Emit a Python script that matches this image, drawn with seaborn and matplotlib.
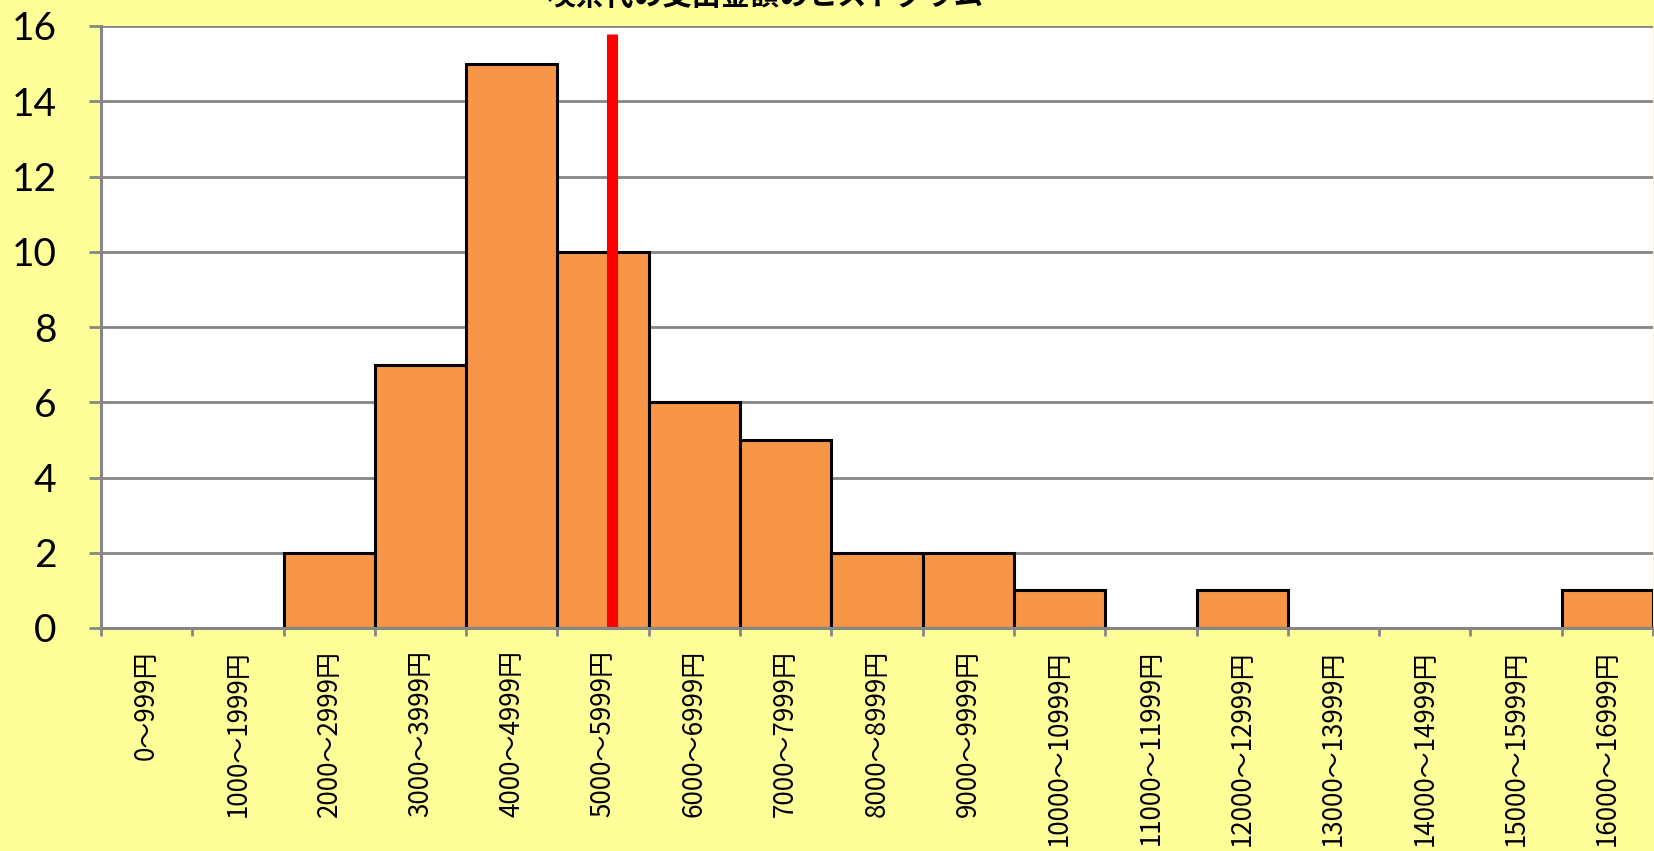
#%% pacotes
import matplotlib
matplotlib.use("Agg")
import matplotlib.pyplot as plt
import seaborn as sns
import numpy as np

sns.set_style("white")
plt.rcParams['font.family'] = ['Noto Sans CJK JP', 'DejaVu Sans']
plt.rcParams['text.color'] = 'black'
plt.rcParams['xtick.color'] = 'black'
plt.rcParams['ytick.color'] = 'black'

#%% dados
bin_lower = [0, 1000, 2000, 3000, 4000, 5000, 6000, 7000, 8000,
             9000, 10000, 11000, 12000, 13000, 14000, 15000, 16000]
frequencia = [0, 0, 2, 7, 15, 10, 6, 5, 2, 2, 1, 0, 1, 0, 0, 0, 1]
rotulos = [f'{b}～{b + 999}円' for b in bin_lower]
media = 5600
topo_media = 15.8
titulo = '喫茶代の支出金額のヒストグラム'

#%% figura
amarelo = '#FFFF99'
laranja = '#F79646'
cinza = '#868686'

fig = plt.figure(figsize=(16.54, 8.51), dpi=100, facecolor=amarelo)
ax = fig.add_axes([101 / 1654, 1 - 628 / 851, 1552 / 1654, (628 - 26) / 851])
ax.set_facecolor('white')

bordas = bin_lower + [bin_lower[-1] + 1000]
sns.histplot(x=bin_lower, weights=frequencia, bins=bordas, ax=ax,
             color=laranja, alpha=1, edgecolor='black', linewidth=2.2,
             zorder=2)

# esconde as barras vazias
for p in ax.patches:
    if p.get_height() == 0:
        p.set_visible(False)

ax.vlines(media, 0, topo_media, color='#FF0000', linewidth=8, zorder=3)

ax.set_xlim(bordas[0], bordas[-1])
ax.set_ylim(0, 16)
ax.set_yticks(range(0, 17, 2))
ax.set_xticks(bordas)
ax.set_xticklabels([''] * len(bordas))
centros = [b + 500 for b in bin_lower]
ax.set_xticks(centros, rotulos, minor=True, rotation=90)

ax.tick_params(axis='x', which='major', length=6, width=2, color=cinza,
               direction='out', bottom=True)
ax.tick_params(axis='x', which='minor', length=0, pad=16, labelsize=18.7)
ax.tick_params(axis='y', length=9, width=2, color=cinza, direction='out',
               left=True, pad=23, labelsize=28)
for t in ax.get_yticklabels():
    t.set_family(['Lato', 'DejaVu Sans'])

ax.set_axisbelow(True)
ax.yaxis.grid(True, color=cinza, linewidth=2)
ax.xaxis.grid(False)

for s in ['top', 'right']:
    ax.spines[s].set_visible(False)
for s in ['left', 'bottom']:
    ax.spines[s].set_color(cinza)
    ax.spines[s].set_linewidth(2.2)
    ax.spines[s].set_zorder(4)

ax.set_xlabel('')
ax.set_ylabel('')

fig.text(765 / 1654, 1 - 11 / 851, titulo, ha='center', va='bottom',
         fontsize=21, fontweight='bold')

fig.savefig('out.png', dpi=100, facecolor=amarelo)
